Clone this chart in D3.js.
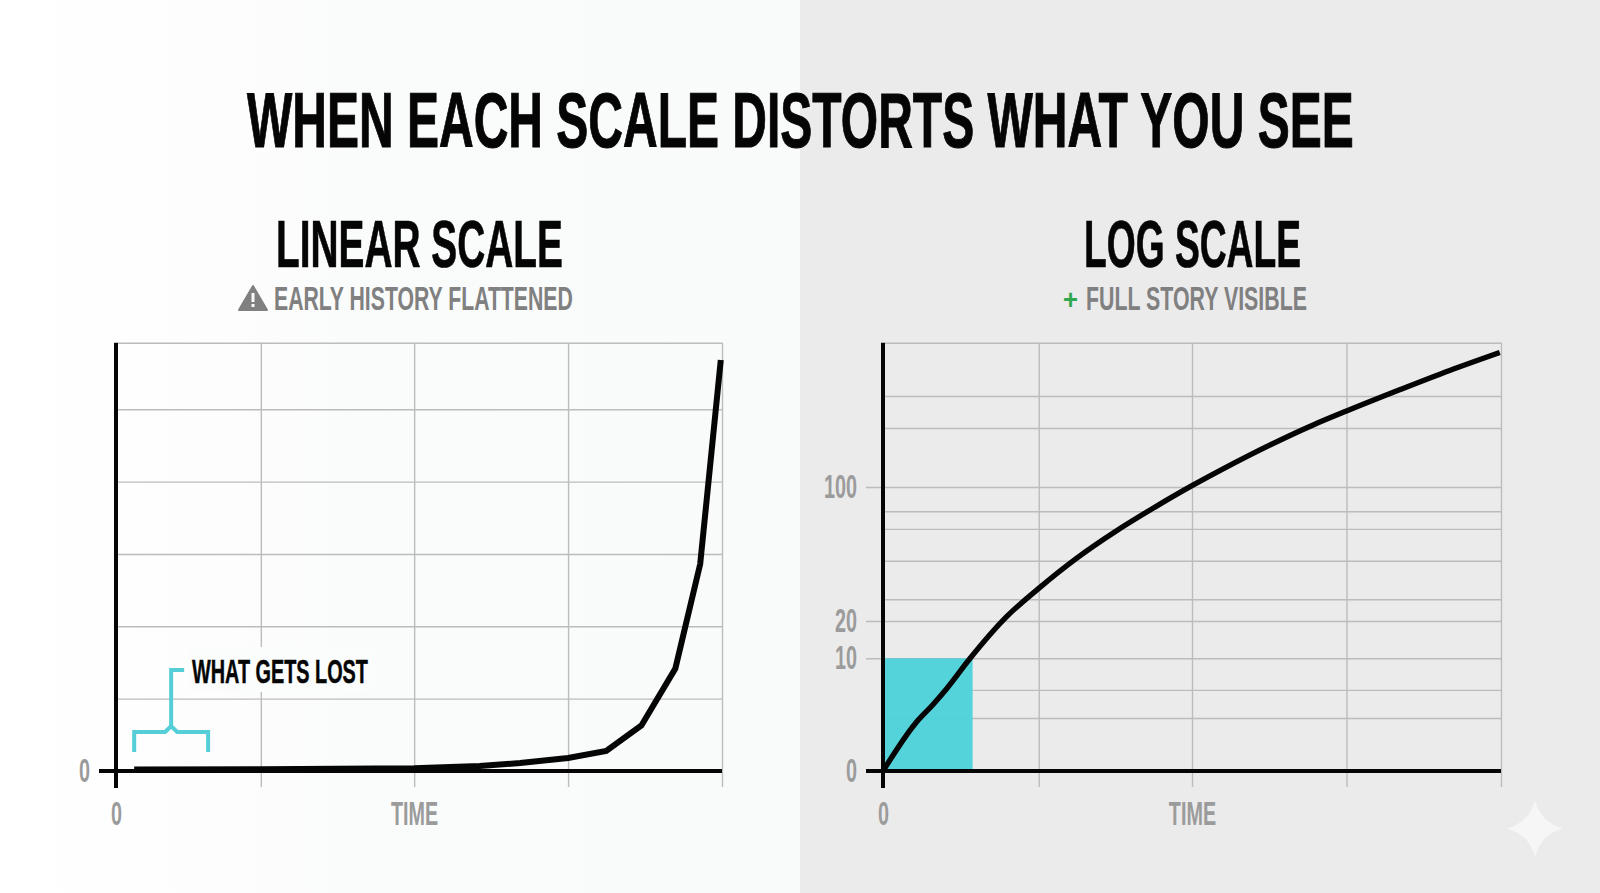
<!DOCTYPE html>
<html>
<head>
<meta charset="utf-8">
<script src="https://cdn.jsdelivr.net/npm/d3@7"></script>
<style>
  html, body { margin: 0; padding: 0; background: #fff; }
  svg { display: block; }
  text { font-family: "Liberation Sans Narrow", "Liberation Sans", sans-serif; font-weight: 700; }
</style>
</head>
<body>
<svg width="1600" height="893"></svg>
<script>
// linear panel
let linearTime = [3, 23.9, 49.2, 60, 66.7, 74.6, 80.9, 86.7, 92.3, 96.4, 99.8];
let linearValue = [2, 2.3, 3.7, 7, 11, 18, 27.7, 63, 141.6, 286, 568];
let linearGridX = [23.9, 49.2, 74.6, 100];
let linearGridY = [100, 200, 300, 400, 500, 592];
let linearLostFrom = 3;
let linearLostTo = 15.2;

// log panel (the picture's axis is not evenly logarithmic, so its stops are read off too)
let logTime = [0, 5.2, 8.1, 10.3, 14.1, 20, 25.2, 31.3, 37.8, 43.7, 50, 54.5, 59.4, 69.6, 75, 83.7, 91.7, 99.8];
let logValue = [0, 4.2, 5.9, 7.3, 10, 22.6, 39.5, 57.4, 73.9, 87.3, 108, 202, 300, 487, 574, 708, 827, 939];
let logStops = [0, 10, 20, 100, 1000];
let logGridX = [25.2, 50, 75, 100];
let logGridY = [4.7, 7.2, 10, 20, 33, 56, 75, 85.5, 100, 468, 668, 1000];
let logLabels = [0, 10, 20, 100];
let logShadeTime = 14.5;
let logShadeValue = 10;

let svg = d3.select("svg");
let defs = svg.append("defs");
let fade = defs.append("linearGradient").attr("id", "leftBg");
fade.append("stop").attr("offset", "0").attr("stop-color", "#ffffff");
fade.append("stop").attr("offset", "0.28").attr("stop-color", "#fdfdfd");
fade.append("stop").attr("offset", "0.45").attr("stop-color", "#fafbfb");
fade.append("stop").attr("offset", "1").attr("stop-color", "#f9fafa");

svg.append("rect").attr("width", 800).attr("height", 893).attr("fill", "url(#leftBg)");
svg.append("rect").attr("x", 800).attr("width", 800).attr("height", 893).attr("fill", "#ebebec");

// fit the narrow font into the width the tall headline face takes up
function fit(node, x, y, width) {
  let k = width / node.getComputedTextLength();
  d3.select(node).attr("transform", `translate(${x},${y}) scale(${k},1)`);
}

function label(str, x, y, size, width, fill, weight) {
  let t = svg.append("text")
    .attr("font-size", size)
    .attr("fill", fill)
    .attr("stroke", fill)
    .attr("stroke-width", weight || 0)
    .text(str);
  fit(t.node(), x, y, width);
  return t;
}

label("WHEN EACH SCALE DISTORTS WHAT YOU SEE", 247, 146.5, 78, 1107, "#050505", 1);
label("LINEAR SCALE", 276, 267, 66, 287, "#050505", 0.7);
label("EARLY HISTORY FLATTENED", 274, 310, 34, 299, "#808080");
label("LOG SCALE", 1084, 267, 66, 217, "#050505", 0.7);
label("FULL STORY VISIBLE", 1086, 310, 34, 221, "#808080");
label("+", 1063, 309, 28, 15, "#2fa84f");

// warning sign in front of the left subtitle
svg.append("path")
  .attr("d", "M253 286 L267 310 L239 310 Z")
  .attr("fill", "#808080").attr("stroke", "#808080").attr("stroke-width", 2).attr("stroke-linejoin", "round");
svg.append("rect").attr("x", 251.5).attr("y", 293).attr("width", 3).attr("height", 9).attr("fill", "#f8f9f9");
svg.append("rect").attr("x", 251.5).attr("y", 304).attr("width", 3).attr("height", 3).attr("fill", "#f8f9f9");

let top_ = 342.7, base = 771, below = 787;
let gridColor = "#bcbcbc", tickColor = "#9b9b9b";

function gridAndAxes(g, x, y, gridX, gridY, left, right) {
  let gx = g.append("g").attr("transform", `translate(0,${base})`)
    .call(d3.axisBottom(x).tickValues(gridX).tickFormat("").tickSizeOuter(0).tickSizeInner(-(base - top_)));
  gx.select(".domain").remove();
  gx.selectAll("line").attr("y1", below - base).attr("stroke", gridColor).attr("stroke-width", 1.4);

  let gy = g.append("g").attr("transform", `translate(${right},0)`)
    .call(d3.axisLeft(y).tickValues(gridY).tickFormat("").tickSizeOuter(0).tickSizeInner(right - left));
  gy.select(".domain").remove();
  gy.selectAll("line").attr("stroke", gridColor).attr("stroke-width", 1.4);
  return gy;
}

function axisLines(g, xStart, xEnd, yAxisX) {
  g.append("line").attr("x1", xStart).attr("x2", xEnd).attr("y1", base).attr("y2", base)
    .attr("stroke", "#050505").attr("stroke-width", 4);
  g.append("line").attr("x1", yAxisX).attr("x2", yAxisX).attr("y1", top_).attr("y2", below + 1)
    .attr("stroke", "#050505").attr("stroke-width", 4);
}

function tickLabels(g, x, y, xVals, xFmt, yVals, yRight) {
  let ax = g.append("g").attr("transform", `translate(0,${base})`)
    .call(d3.axisBottom(x).tickValues(xVals).tickFormat(xFmt).tickSize(0).tickPadding(31));
  ax.select(".domain").remove();
  let ay = g.append("g").attr("transform", `translate(${yRight},0)`)
    .call(d3.axisLeft(y).tickValues(yVals).tickSize(0).tickPadding(0));
  ay.select(".domain").remove();
  g.selectAll("text")
    .attr("font-size", 33).attr("fill", tickColor)
    .attr("font-family", "Liberation Sans Narrow, Liberation Sans, sans-serif")
    .attr("font-weight", 700);
  g.selectAll("text").each(function () {
    // axis puts the label on its tick, so only narrow it around its anchor
    this.setAttribute("lengthAdjust", "spacingAndGlyphs");
    this.setAttribute("textLength", this.getComputedTextLength() * 0.6);
  });
}

// ---- linear panel ----
let xLin = d3.scaleLinear().domain([0, 100]).range([116, 722]);
let yLin = d3.scaleLinear().domain([0, 592]).range([base, top_]);
let left = svg.append("g");
gridAndAxes(left, xLin, yLin, linearGridX, linearGridY, 118, 722);

// the label sits on a patch that hides the grid behind it
left.append("rect").attr("x", 188).attr("y", 647).attr("width", 186).attr("height", 45).attr("fill", "#fbfcfc");

axisLines(left, 99, 722, 116);
left.append("path")
  .datum(d3.zip(linearTime, linearValue))
  .attr("fill", "none").attr("stroke", "#050505").attr("stroke-width", 6)
  .attr("d", d3.line().x(d => xLin(d[0])).y(d => yLin(d[1])));
tickLabels(left.append("g"), xLin, yLin, [0, 49.2], t => t === 0 ? "0" : "TIME", [0], 90);

let bx0 = xLin(linearLostFrom), bx1 = xLin(linearLostTo), bm = (bx0 + bx1) / 2;
let bracket = d3.path();
bracket.moveTo(bx0, base - 19);
bracket.lineTo(bx0, base - 39);
bracket.lineTo(bm - 6, base - 39);
bracket.lineTo(bm, base - 45);
bracket.lineTo(bm + 6, base - 39);
bracket.lineTo(bx1, base - 39);
bracket.lineTo(bx1, base - 19);
bracket.moveTo(bm, base - 45);
bracket.lineTo(bm, base - 101);
bracket.lineTo(bm + 13, base - 101);
left.append("path").attr("d", bracket.toString())
  .attr("fill", "none").attr("stroke", "#55ced8").attr("stroke-width", 4);
label("WHAT GETS LOST", 192, 683, 34, 176, "#050505", 0.5);

// ---- log panel ----
let xLog = d3.scaleLinear().domain([0, 100]).range([883, 1501]);
let yLog = d3.scaleLinear().domain(logStops).range([base, 658.3, 621, 487, top_]);
let right = svg.append("g");
let gyLog = gridAndAxes(right, xLog, yLog, logGridX, logGridY, 885, 1501);
gyLog.selectAll(".tick line")
  .filter(d => logLabels.includes(d))
  .attr("x2", 866 - 1501);

right.append("rect")
  .attr("x", xLog(0)).attr("y", yLog(logShadeValue))
  .attr("width", xLog(logShadeTime) - xLog(0)).attr("height", yLog(0) - yLog(logShadeValue))
  .attr("fill", "#4fd2da").attr("opacity", 0.97);

axisLines(right, 866, 1501, 883);
right.append("path")
  .datum(d3.zip(logTime, logValue))
  .attr("fill", "none").attr("stroke", "#050505").attr("stroke-width", 5.4)
  .attr("d", d3.line().x(d => xLog(d[0])).y(d => yLog(d[1])).curve(d3.curveMonotoneX));
tickLabels(right.append("g"), xLog, yLog, [0, 50], t => t === 0 ? "0" : "TIME", logLabels, 857);

// faint star in the bottom right corner
let sx = 1535, sy = 828.5, sr = 28, sq = 6;
svg.append("path")
  .attr("d", `M${sx} ${sy - sr} Q${sx + sq} ${sy - sq} ${sx + sr} ${sy} Q${sx + sq} ${sy + sq} ${sx} ${sy + sr} Q${sx - sq} ${sy + sq} ${sx - sr} ${sy} Q${sx - sq} ${sy - sq} ${sx} ${sy - sr} Z`)
  .attr("fill", "#f6f6f6");
</script>
</body>
</html>
